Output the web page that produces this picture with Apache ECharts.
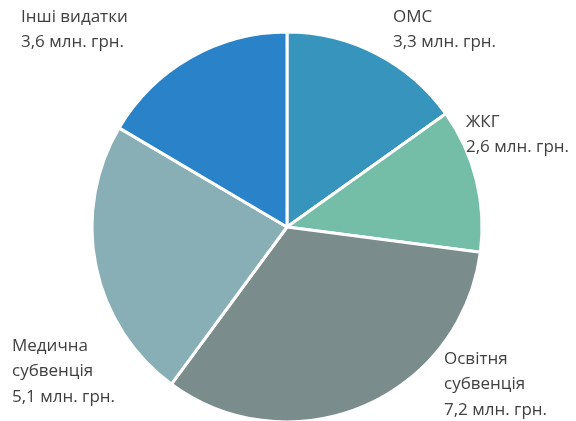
<!DOCTYPE html>
<html>
<head>
<meta charset="utf-8">
<script src="https://cdn.jsdelivr.net/npm/echarts@6/dist/echarts.min.js"></script>
<style>
  html, body { margin: 0; padding: 0; background: #fff; }
  #chart { width: 576px; height: 421px; }
</style>
</head>
<body>
<div id="chart"></div>
<script>
// дані діаграми (млн. грн.)
var names = ['ОМС', 'ЖКГ', 'Освітня\nсубвенція', 'Медична\nсубвенція', 'Інші видатки'];
var values = [3.3, 2.6, 7.2, 5.1, 3.6];
var colors = ['#3795bd', '#74bea8', '#7b8c8c', '#88aeb6', '#2a83c9'];

// положення підписів (лівий верхній кут)
var labelPos = [[393, 4], [466, 109], [444, 346], [12, 333], [21, 4]];

var chart = echarts.init(document.getElementById('chart'));

var pieData = names.map(function (n, i) {
  return { name: n, value: values[i], itemStyle: { color: colors[i] } };
});

var option = {
  animation: false,
  series: [{
    type: 'pie',
    center: [287, 227],
    radius: 195,
    startAngle: 90,
    clockwise: true,
    data: pieData,
    itemStyle: { borderColor: '#fff', borderWidth: 3 },
    label: {
      show: true,
      position: 'outside',
      formatter: function (p) {
        return p.name + '\n' + String(p.value).replace('.', ',') + ' млн. грн.';
      },
      fontFamily: 'Open Sans',
      fontSize: 17,
      lineHeight: 25.5,
      color: '#404040',
      align: 'left',
      overflow: 'none'
    },
    labelLine: { show: false },
    labelLayout: function (params) {
      var p = labelPos[params.dataIndex];
      return { x: p[0], y: p[1], align: 'left', verticalAlign: 'top', hideOverlap: false };
    }
  }]
};

chart.setOption(option);
</script>
</body>
</html>
